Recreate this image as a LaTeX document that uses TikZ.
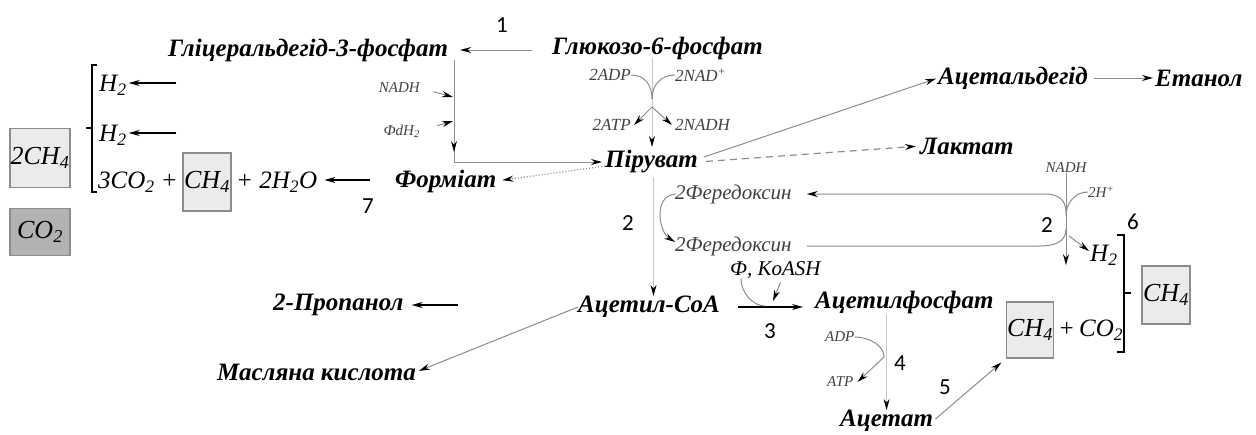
\documentclass[tikz,border=0pt]{standalone}
\usepackage{fontspec}
\setmainfont{Liberation Serif}
\newfontfamily\numfont{Carlito}
\usetikzlibrary{arrows.meta}
\begin{document}
\begin{tikzpicture}[x=1pt,y=-1pt,
  lbl/.style={font=\fontsize{25}{27}\selectfont\bfseries\itshape, inner sep=0pt, anchor=west},
  frm/.style={font=\fontsize{25}{27}\selectfont\itshape, inner sep=0pt, anchor=west},
  sml/.style={font=\fontsize{17}{18}\selectfont\itshape, text=black!75, inner sep=0pt},
  tiny/.style={sml, font=\fontsize{15}{16}\selectfont\itshape},
  fer/.style={sml, font=\fontsize{21}{22}\selectfont\itshape, anchor=west},
  num/.style={font=\numfont\fontsize{23}{25}\selectfont, inner sep=0pt},
  lbox/.style={draw=black!45, fill=black!8, line width=1.2pt, inner sep=0pt, minimum width=48pt, minimum height=58pt, font=\fontsize{26}{28}\selectfont\itshape},
  dbox/.style={lbox, fill=black!30},
  gl/.style={draw=black!45, line width=1pt},
  fl/.style={draw=black!22, line width=0.8pt},
  bl/.style={draw=black, line width=1.3pt},
  tip/.style={-{Stealth[length=11pt,width=6pt,color=black]}},
]
\useasboundingbox (0,0) rectangle (1256,434);

% main labels
\node[lbl] (glyc) at (168,50) {Гліцеральдегід-3-фосфат};
\node[lbl] (gluc) at (552,48) {Глюкозо-6-фосфат};
\node[lbl] (pyr) at (605,162) {Піруват};
\node[lbl] (form) at (395,181) {Форміат};
\node[lbl] (acald) at (938,78) {Ацетальдегід};
\node[lbl] (eth) at (1155,78) {Етанол};
\node[lbl] (lact) at (920,146) {Лактат};
\node[lbl] (acoa) at (578,307) {Ацетил-CoA};
\node[lbl] (acp) at (815,302) {Ацетилфосфат};
\node[lbl] (prop) at (273,305) {2-Пропанол};
\node[lbl] (but) at (217,372) {Масляна кислота};
\node[lbl] (acet) at (840,421) {Ацетат};

% formulas and boxes
\node[frm] (h2a) at (99,85) {H\textsubscript{2}};
\node[frm] (h2b) at (99,135) {H\textsubscript{2}};
\node[frm] (eqa) at (98,182) {3CO\textsubscript{2} +};
\node[lbox] (ch4a) at (207,182) {CH\textsubscript{4}};
\node[frm] (eqb) at (236,182) {+ 2H\textsubscript{2}O};
\node[lbox, minimum width=60pt, minimum height=59pt] (b2ch4) at (40,158) {2CH\textsubscript{4}};
\node[dbox, minimum width=60pt, minimum height=47pt] (bco2) at (40,232) {CO\textsubscript{2}};
\node[frm] (h2c) at (1090,255) {H\textsubscript{2}};
\node[lbox, minimum width=47pt, minimum height=56pt] (ch4b) at (1030,330) {CH\textsubscript{4}};
\node[frm] (co2b) at (1058,330) {+\,CO\textsubscript{2}};
\node[lbox] (ch4c) at (1166,295) {CH\textsubscript{4}};

% small labels
\node[tiny, anchor=east] (nadh1) at (420,88) {NADH};
\node[tiny, anchor=east] (fdh) at (420,131) {ФdH\textsubscript{2}};
\node[sml, anchor=east] (adp2) at (631,75) {2ADP};
\node[sml, anchor=west] (nad2) at (675,75) {2NAD\textsuperscript{+}};
\node[sml, anchor=east] (atp2) at (631,125) {2ATP};
\node[sml, anchor=west] (nadh2) at (675,125) {2NADH};
\node[fer] (fer1) at (675,194) {2Фередоксин};
\node[fer] (fer2) at (675,246) {2Фередоксин};
\node[tiny] (nadh3) at (1066,168) {NADH};
\node[tiny, anchor=west] (hp) at (1088,192) {2H\textsuperscript{+}};
\node[fer, text=black] (fi) at (730,270) {Ф, KoASH};
\node[tiny, anchor=west] (adp) at (825,337) {ADP};
\node[tiny, anchor=west] (atp) at (827,382) {ATP};

% step numbers
\node[num] (n1) at (502,25) {1};
\node[num] (n7) at (368,206) {7};
\node[num] (n2a) at (628,223) {2};
\node[num] (n2b) at (1047,225) {2};
\node[num] (n6) at (1133,222) {6};
\node[num] (n3) at (770,331) {3};
\node[num] (n4) at (900,363) {4};
\node[num] (n5) at (945,387) {5};

% coordinates on connectors
\coordinate (gv) at (454,60);
\coordinate (gva) at (453,97);
\coordinate (gvb) at (453,121);
\coordinate (gvt) at (454,132);
\coordinate (gvc) at (454,152);
\coordinate (gt) at (652,58);
\coordinate (gm) at (652,99);
\coordinate (gm2) at (652,107);
\coordinate (gb) at (652,147);
\coordinate (jt) at (1066,213);
\coordinate (jt2) at (1066,216);
\coordinate (jb) at (1066,229);
\coordinate (jh) at (1069,236);
\coordinate (jc) at (765,306);
\coordinate (jc2) at (773,301);
\coordinate (aa) at (884,357);
\coordinate (pt) at (458,305);
\coordinate (h2at) at (176,83);
\coordinate (h2bt) at (176,133);
\coordinate (s7) at (370,180);

% 1: glucose-6-phosphate -> glyceraldehyde-3-phosphate
\draw[gl,tip,shorten <=20pt,shorten >=12pt] (glyc.east -| gluc.west) -- (glyc.east);
% glyceraldehyde -> pyruvate
\draw[gl,tip,shorten >=3pt] (gv) |- (pyr.west);
\draw[gl,tip,shorten <=14pt] (nadh1.east) -- (gva);
\draw[gl,tip,shorten <=18pt] (fdh.east) -- (gvb);
\draw[gl,tip] (gvt) -- (gvc);
% glucose -> pyruvate (glycolysis)
\draw[fl,tip] (gt) -- (gb);
\draw[gl] (adp2.east) .. controls +(14,0) and +(0,-14) .. (gm);
\draw[gl] (nad2.west) .. controls +(-14,0) and +(0,-14) .. (gm);
\draw[gl,tip] (gm2) -- ([xshift=3pt]atp2.east);
\draw[gl,tip] (gm2) -- ([xshift=-3pt]nadh2.west);
% pyruvate -> formate
\draw[gl,dotted,line width=1.3pt,tip,shorten >=6pt] ([yshift=-4pt]pyr.west) -- (form.east);
% pyruvate -> acetaldehyde -> ethanol
\draw[gl,tip,shorten <=6pt,shorten >=2pt] ([yshift=3pt]pyr.east) -- (acald.west);
\draw[gl,tip,shorten <=6pt,shorten >=2pt] (acald.east) -- (eth.west);
% pyruvate -> lactate
\draw[gl,dash pattern=on 7pt off 5pt,line width=1.2pt,tip,shorten <=8pt,shorten >=4pt] (pyr.east) -- (lact.west);
% pyruvate -> acetyl-CoA
\draw[fl,tip] (pyr.south) ++(2,3) coordinate (pvs) -- (pvs |- acoa.north);
% ferredoxin cycle
\draw[gl,tip] (fer1.west) .. controls +(-22,2) and +(-16,-10) .. ([yshift=4pt]fer2.west);
\draw[gl,tip] (jt) .. controls +(0,-14) and +(14,0) .. ++(-22,-19) -- ([xshift=15pt]fer1.east);
\draw[gl] ([xshift=15pt]fer2.east) -- ++(232,0) .. controls +(14,0) and +(0,14) .. (jb);
\draw[gl] (hp.west) .. controls +(-14,0) and +(0,-12) .. (jt2);
\draw[gl,tip] (nadh3.south) -- ++(0,92);
\draw[gl,tip] (jh) -- ([xshift=-1pt,yshift=4pt]h2c.west);
% acetyl-CoA -> acetylphosphate
\draw[bl,tip,shorten <=18pt,shorten >=12pt] (acoa.east) -- (acp.west |- acoa.east);
\draw[gl] ([xshift=11pt]fi.south west) .. controls +(0,14) and +(-12,0) .. (jc);
\draw[gl,tip,shorten <=4pt] ([xshift=52pt]fi.south west) -- (jc2);
% acetyl-CoA -> butyric acid
\draw[gl,tip,shorten >=3pt] (acoa.west) -- (but.east);
% 2-propanol
\draw[bl,tip,shorten >=8pt] (pt) -- (prop.east |- pt);
% acetylphosphate -> acetate
\draw[gl] (adp.east) .. controls +(14,0) and +(0,-12) .. (aa);
\draw[gl,tip] (aa) -- ([xshift=4pt]atp.east);
\draw[fl,tip] (acet.north |- acp.south) -- (acet.north);
% acetate -> methane
\draw[gl,tip,shorten <=3pt,shorten >=6pt] (acet.east) -- (ch4b.south west);
% hydrogen and formate side
\draw[bl,tip,shorten >=2pt] (h2at) -- (h2at -| h2a.east);
\draw[bl,tip,shorten >=2pt] (h2bt) -- (h2bt -| h2b.east);
\draw[bl,tip,shorten >=7pt] (s7) -- (s7 -| eqb.east);
% brackets
\draw[bl] (97,65) -- (92,65) -- (92,192) -- (97,192);
\draw[bl] (92,128) -- (86,128);
\draw[bl] (1117,235) -- (1124,235) -- (1124,352) -- (1117,352);
\draw[bl] (1124,293) -- (1131,293);
\end{tikzpicture}
\end{document}
